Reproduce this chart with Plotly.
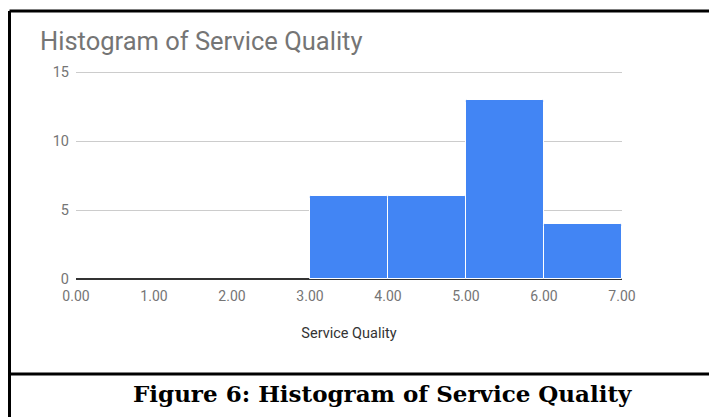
import plotly.graph_objects as go

bin_left = [3, 4, 5, 6]
bin_width = [1, 1, 1, 1]
counts = [6, 6, 13, 4]
x_ticks = [0, 1, 2, 3, 4, 5, 6, 7]
y_ticks = [0, 5, 10, 15]

OFF = 8  # browser body margin
W, H = 717 - OFF, 417 - OFF
L, R, T, B = 76 - OFF, 95, 68 - OFF, 138
pw, ph = W - L - R, H - T - B

def px(X):
    return (X - OFF - L) / pw

def py(Y):
    return (H - B - (Y - OFF)) / ph

fig = go.Figure()
fig.add_trace(go.Bar(
    x=bin_left, y=counts, width=bin_width, offset=0,
    marker=dict(color="#4285F4", line=dict(color="white", width=1)),
    hoverinfo="skip",
))

fig.update_layout(
    width=W, height=H,
    margin=dict(l=L, r=R, t=T, b=B),
    plot_bgcolor="white", paper_bgcolor="white",
    showlegend=False, bargap=0, barcornerradius=2,
    title=dict(text="Histogram of Service Quality", x=(40 - OFF) / W, xref="container",
               xanchor="left", y=1 - (41 - OFF) / H, yanchor="middle",
               font=dict(family="Roboto", size=25.5, color="#757575")),
    font=dict(family="Roboto"),
)
fig.update_xaxes(
    range=[0, 7], tickvals=x_ticks, tickformat=".2f", showgrid=False,
    zeroline=False, showline=False, ticks="", ticklabelstandoff=7,
    tickfont=dict(family="Roboto", size=14, color="#757575"),
    title=dict(text="Service Quality", font=dict(family="Roboto", size=14.5, color="#333333"), standoff=24),
)
fig.update_yaxes(
    range=[0, 15.3], tickvals=y_ticks, showgrid=True, gridcolor="#cccccc", gridwidth=1,
    zeroline=True, zerolinecolor="#333333", zerolinewidth=1.5, showline=False,
    ticks="", ticklabelstandoff=6,
    tickfont=dict(family="Roboto", size=14.5, color="#757575"),
)

line = dict(color="black", width=3)
fig.add_shape(type="line", xref="paper", yref="paper",
              x0=px(9.5), x1=px(717), y0=py(11), y1=py(11), line=line)
fig.add_shape(type="line", xref="paper", yref="paper",
              x0=px(9.5), x1=px(9.5), y0=py(11), y1=py(417), line=line)
fig.add_shape(type="line", xref="paper", yref="paper",
              x0=px(9.5), x1=px(717), y0=py(374), y1=py(374), line=line)

fig.add_annotation(text="<b>Figure 6: Histogram of Service Quality</b>",
                   xref="paper", yref="paper", x=px(382), y=py(393),
                   xanchor="center", yanchor="middle", showarrow=False,
                   font=dict(family="DejaVu Serif", size=23, color="black"))

fig.write_html("out.html")
